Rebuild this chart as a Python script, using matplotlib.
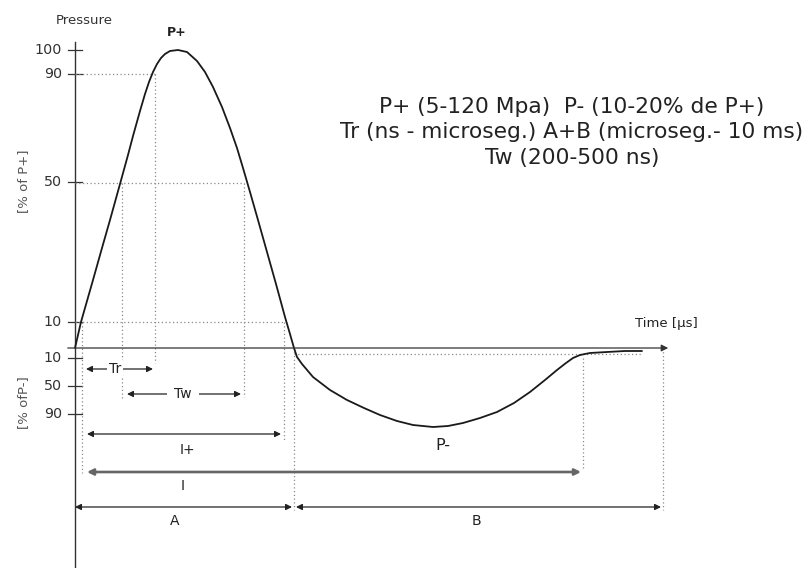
import matplotlib
matplotlib.use("Agg")
import matplotlib.pyplot as plt

plt.rcParams['font.family'] = ['DejaVu Sans']

# ---- data (schematic units: time from axis, pressure height above baseline) ----
pulse_t = [0, 6, 18, 27, 35, 45, 53, 58, 65, 70, 74, 78, 82, 86, 90, 95, 103,
           112, 122, 130, 138, 147, 155, 162, 168, 175, 183, 192, 201, 210, 215, 219,
           222, 227, 238, 255, 272, 289, 305, 322, 338, 358, 373, 388, 405, 422, 439, 455,
           470, 482, 491, 498, 505, 515, 532, 550, 567]
pulse_p = [0, 26, 68, 100, 128, 164, 193, 212, 237, 254, 266, 276, 284, 290, 294, 297, 298,
           296, 287, 276, 261, 241, 220, 200, 180, 156, 128, 96, 64, 31, 14, 0,
           -9, -16, -29, -42, -52, -60, -67, -73, -77, -79, -78, -75, -70, -64, -55, -44,
           -32, -22, -15, -10, -7, -5, -4, -3, -3]

pos_tick_pos = [298, 274, 166, 26]
pos_tick_labels = ['100', '90', '50', '10']
neg_tick_pos = [-10, -38, -66]
neg_tick_labels = ['10', '50', '90']

info_lines = ['P+ (5-120 Mpa)  P- (10-20% de P+)',
              'Tr (ns - microseg.) A+B (microseg.- 10 ms)',
              'Tw (200-500 ns)']

fig = plt.figure(figsize=(8.07, 5.68), dpi=100)
ax = fig.add_axes([0, 0, 1, 1])
ax.set_xlim(-75, 732)
ax.set_ylim(-220, 348)
ax.axis('off')

dark = '#222222'
dotc = '#8a8a8a'

# axes
ax.plot([0, 0], [306, -220], color='#333333', lw=1.0)
ax.annotate('', xy=(596, 0), xytext=(-10, 0),
            arrowprops=dict(arrowstyle='-|>', color='#333333', lw=0.9, mutation_scale=10))

# ticks
for p, lab in zip(pos_tick_pos + neg_tick_pos, pos_tick_labels + neg_tick_labels):
    ax.plot([-7, 7], [p, p], color='#333333', lw=0.9)
    ax.text(-13, p, lab, ha='right', va='center', fontsize=10.3, color='#333333')

# dotted guide lines
hdots = [((0, 80), 274), ((0, 169), 165), ((0, 210), 26), ((219, 566), -6)]
for (x0, x1), p in hdots:
    ax.plot([x0, x1], [p, p], ls=(0, (1, 2)), color=dotc, lw=0.9)
vdots = [(7, 26, -125), (47, 165, -52), (80, 274, -15), (169, 165, -49),
         (209, 26, -92), (219, 0, -162), (508, -10, -121), (588, 0, -162)]
for t, p0, p1 in vdots:
    ax.plot([t, t], [p0, p1], ls=(0, (1, 2)), color=dotc, lw=0.9)

# pulse curve
ax.plot(pulse_t, pulse_p, color='#1a1a1a', lw=1.3, solid_capstyle='round',
        solid_joinstyle='round')

# dimension arrows
def dim(x0, x1, p, lw=0.9, color='#222222'):
    ax.annotate('', xy=(x1, p), xytext=(x0, p),
                arrowprops=dict(arrowstyle='<|-|>', color=color, lw=lw,
                                mutation_scale=9, shrinkA=0, shrinkB=0))

dim(11, 78, -21)
ax.text(40, -21, 'Tr', ha='center', va='center', fontsize=10, color=dark,
        bbox=dict(facecolor='white', edgecolor='none', pad=1.5))
dim(52, 166, -46)
ax.text(108, -46, 'Tw', ha='center', va='center', fontsize=10, color=dark,
        bbox=dict(facecolor='white', edgecolor='none', pad=5))
dim(12, 206, -86)
ax.text(112, -102, 'I+', ha='center', va='center', fontsize=10, color=dark)
dim(12, 506, -124, lw=1.9, color='#666666')
ax.text(108, -138, 'I', ha='center', va='center', fontsize=10, color=dark)
dim(0, 217, -159)
ax.text(100, -173, 'A', ha='center', va='center', fontsize=10, color=dark)
dim(221, 586, -159)
ax.text(401, -173, 'B', ha='center', va='center', fontsize=10, color=dark)

# labels
ax.text(9, 328, 'Pressure', ha='center', va='center', fontsize=9.5, color='#333333')
ax.text(102, 315, 'P+', ha='center', va='center', fontsize=9, fontweight='bold', color=dark)
ax.text(591, 25, 'Time [µs]', ha='center', va='center', fontsize=9.5, color=dark)
ax.text(368, -97, 'P-', ha='center', va='center', fontsize=11.5, color=dark)
ax.text(-51, 167, '[% of P+]', ha='center', va='center', rotation=90, fontsize=9.5, color='#555555')
ax.text(-51, -55, '[% ofP-]', ha='center', va='center', rotation=90, fontsize=9.5, color='#555555')

for i, line in enumerate(info_lines):
    ax.text(497, 241 - 25.5 * i, line, ha='center', va='center', fontsize=15.7, color=dark)

fig.savefig('out.png', dpi=100)
